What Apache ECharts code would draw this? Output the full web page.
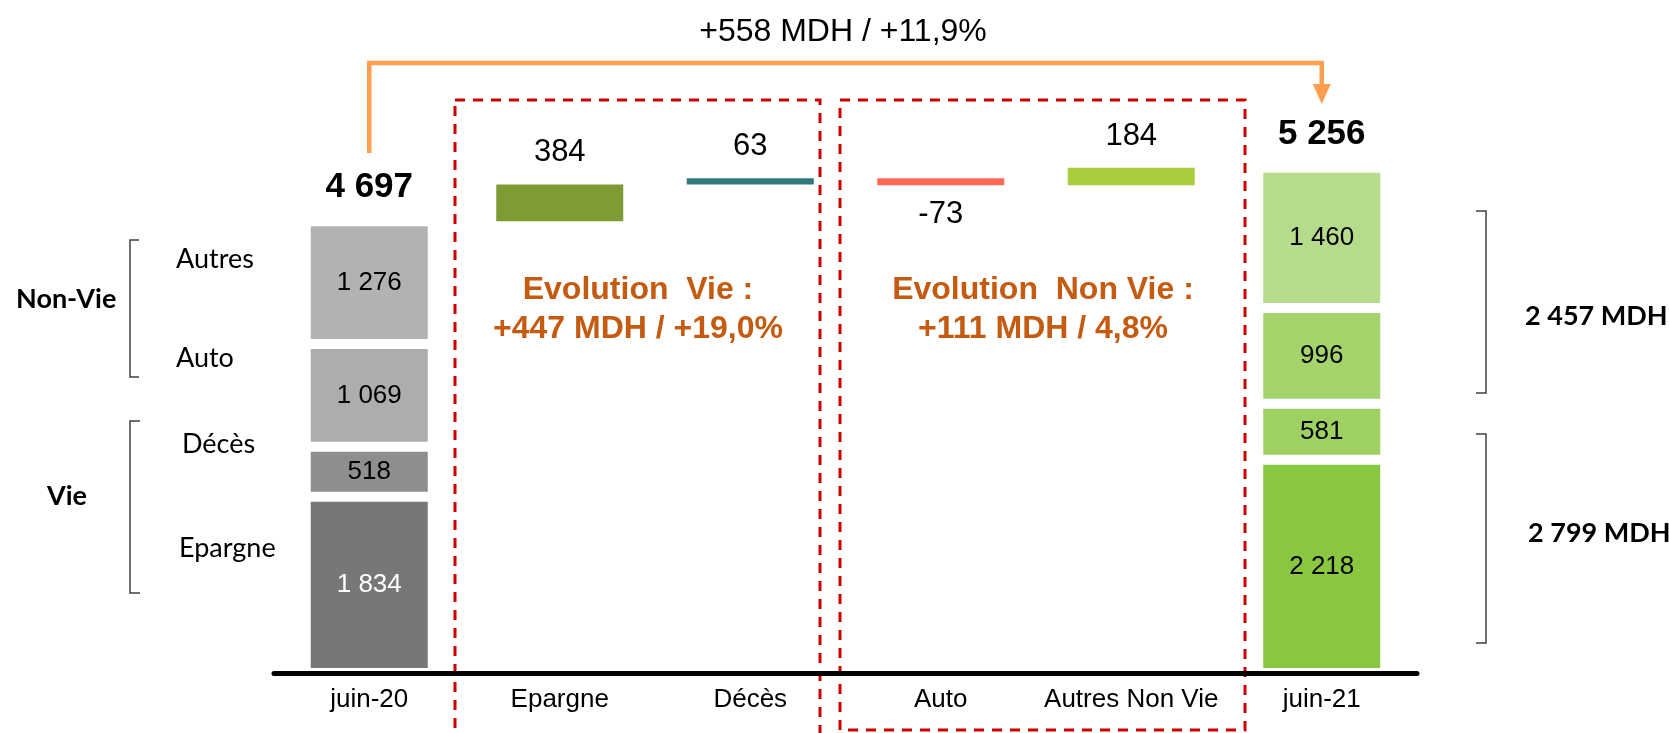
<!DOCTYPE html>
<html lang="fr">
<head>
    <meta charset="UTF-8">
    <title>Chiffre d'affaires juin-20 / juin-21</title>
    <script src="https://cdn.jsdelivr.net/npm/echarts@6/dist/echarts.min.js"></script>
    <style>
        html, body { margin: 0; padding: 0; background: #fff; }
    </style>
</head>
<body>
<div id="main" style="width: 1669px;height:733px"></div>
<script>
    // categories de l'axe
    const categories = ['juin-20', 'Epargne', 'Décès', 'Auto', 'Autres Non Vie', 'juin-21']
    // composition des deux barres totales (juin-20, juin-21)
    const segEpargne = [1834, 2218]
    const segDeces = [518, 581]
    const segAuto = [1069, 996]
    const segAutres = [1276, 1460]
    const totals = [4697, 5256]
    // variations (cascade)
    const deltas = [384, 63, -73, 184]

    const ARIAL = "'Liberation Sans', Arial, sans-serif"
    const CALIBRI = "Lato, 'Open Sans', sans-serif"

    const colors20 = ['#777777', '#8e8e8e', '#adadad', '#b2b2b2']
    const colors21 = ['#89c741', '#9fd162', '#a5d46c', '#b6dc8b']
    const deltaColors = ['#7f9b33', '#31787f', '#ff6a55', '#a9ce3d']

    function fmt(n) {
        return String(n).replace(/\B(?=(\d{3})+(?!\d))/g, ' ')
    }

    // base invisible + hauteur de chaque variation
    const base = ['-']
    const height = ['-']
    let level = totals[0]
    deltas.forEach(function (d) {
        base.push(d >= 0 ? level : level + d)
        height.push(Math.abs(d))
        level += d
    })
    base.push('-')
    height.push('-')

    function segSeries(name, vals, idx, labelColor) {
        return {
            name: name,
            type: 'bar',
            stack: 'total',
            barWidth: 127,
            data: [
                {value: vals[0], itemStyle: {color: colors20[idx]}, label: {color: labelColor || '#000'}},
                '-', '-', '-', '-',
                {value: vals[1], itemStyle: {color: colors21[idx]}}
            ],
            itemStyle: {borderColor: '#fff', borderWidth: 5},
            label: {
                show: true,
                position: 'inside',
                fontFamily: ARIAL,
                fontSize: 26,
                color: '#000',
                formatter: function (p) { return fmt(p.value) }
            }
        }
    }

    const myChart = echarts.init(document.getElementById('main'))
    const option = {
        animation: false,
        grid: {left: 274, right: 252, top: 96, bottom: 60},
        xAxis: {
            type: 'category',
            data: categories,
            z: 5,
            axisLine: {lineStyle: {color: '#000', width: 5}},
            axisTick: {show: false},
            axisLabel: {
                interval: 0,
                margin: 14,
                fontFamily: ARIAL,
                fontSize: 26,
                color: '#000'
            }
        },
        yAxis: {
            type: 'value',
            min: 0,
            max: 6000,
            show: false,
            splitLine: {show: false}
        },
        series: [
            segSeries('Epargne', segEpargne, 0, '#fff'),
            segSeries('Décès', segDeces, 1),
            segSeries('Auto', segAuto, 2),
            segSeries('Autres', segAutres, 3),
            {
                name: 'base',
                type: 'bar',
                stack: 'total',
                barWidth: 127,
                itemStyle: {color: 'transparent'},
                data: base
            },
            {
                name: 'variation',
                type: 'bar',
                stack: 'total',
                barWidth: 127,
                data: height.map(function (h, i) {
                    if (h === '-') return '-'
                    const d = deltas[i - 1]
                    return {
                        value: h,
                        itemStyle: {color: deltaColors[i - 1]},
                        label: {position: d >= 0 ? 'top' : 'bottom', distance: d >= 0 ? 16 : 14}
                    }
                }),
                label: {
                    show: true,
                    fontFamily: ARIAL,
                    fontSize: 31,
                    color: '#000',
                    formatter: function (p) { return String(deltas[p.dataIndex - 1]) }
                }
            },
            {
                name: 'total',
                type: 'line',
                data: [totals[0], '-', '-', '-', '-', totals[1]],
                symbol: 'circle',
                symbolSize: 0,
                itemStyle: {color: 'transparent'},
                lineStyle: {width: 0},
                label: {
                    show: true,
                    position: 'top',
                    distance: 16,
                    fontFamily: ARIAL,
                    fontWeight: 'bold',
                    fontSize: 35,
                    color: '#000',
                    formatter: function (p) { return fmt(p.value) }
                }
            }
        ]
    };
    myChart.setOption(option);

    // annotations
    const x0 = myChart.convertToPixel({xAxisIndex: 0}, categories[0])
    const x5 = myChart.convertToPixel({xAxisIndex: 0}, categories[5])
    const orange = '#ff9e4f'
    const red = '#cc0000'
    const bracket = '#404040'
    const dash = {stroke: red, lineWidth: 3, lineDash: [10, 8], fill: null}

    function txt(x, y, text, font, extra) {
        return {
            type: 'text',
            x: x, y: y,
            style: Object.assign({
                text: text,
                font: font,
                fill: '#000',
                textAlign: 'left',
                textVerticalAlign: 'middle'
            }, extra || {})
        }
    }
    function poly(points, stroke, w) {
        return {type: 'polyline', shape: {points: points}, style: {stroke: stroke, lineWidth: w, fill: null}}
    }

    myChart.setOption({
        graphic: [
            txt(843, 32, '+558 MDH / +11,9%', '32px ' + ARIAL, {textAlign: 'center'}),
            poly([[x0, 153], [x0, 63], [x5, 63], [x5, 88]], orange, 4.5),
            {type: 'polygon', shape: {points: [[x5 - 9, 84], [x5 + 9, 84], [x5, 104]]}, style: {fill: orange}},
            {type: 'rect', shape: {x: 455, y: 100, width: 365, height: 660}, style: dash},
            {type: 'rect', shape: {x: 840, y: 100, width: 405, height: 630}, style: dash},
            txt(638, 310, 'Evolution  Vie :\n+447 MDH / +19,0%', 'bold 32px ' + ARIAL,
                {textAlign: 'center', fill: '#c55a11', lineHeight: 39}),
            txt(1043, 310, 'Evolution  Non Vie :\n+111 MDH / 4,8%', 'bold 32px ' + ARIAL,
                {textAlign: 'center', fill: '#c55a11', lineHeight: 39}),
            txt(16, 299, 'Non-Vie', 'bold 27px ' + CALIBRI),
            txt(67, 496, 'Vie', 'bold 27px ' + CALIBRI, {textAlign: 'center'}),
            txt(176, 259, 'Autres', '27px ' + CALIBRI),
            txt(176, 358, 'Auto', '27px ' + CALIBRI),
            txt(182, 444, 'Décès', '27px ' + CALIBRI),
            txt(179, 548, 'Epargne', '27px ' + CALIBRI),
            poly([[139, 240], [130, 240], [130, 377], [139, 377]], bracket, 1.5),
            poly([[140, 421], [130, 421], [130, 593], [140, 593]], bracket, 1.5),
            poly([[1476, 211], [1486, 211], [1486, 393], [1476, 393]], bracket, 1.5),
            poly([[1476, 434], [1486, 434], [1486, 643], [1476, 643]], bracket, 1.5),
            txt(1525, 316, '2 457 MDH', 'bold 27px ' + CALIBRI),
            txt(1528, 533, '2 799 MDH', 'bold 27px ' + CALIBRI)
        ]
    })
</script>
</body>
</html>
